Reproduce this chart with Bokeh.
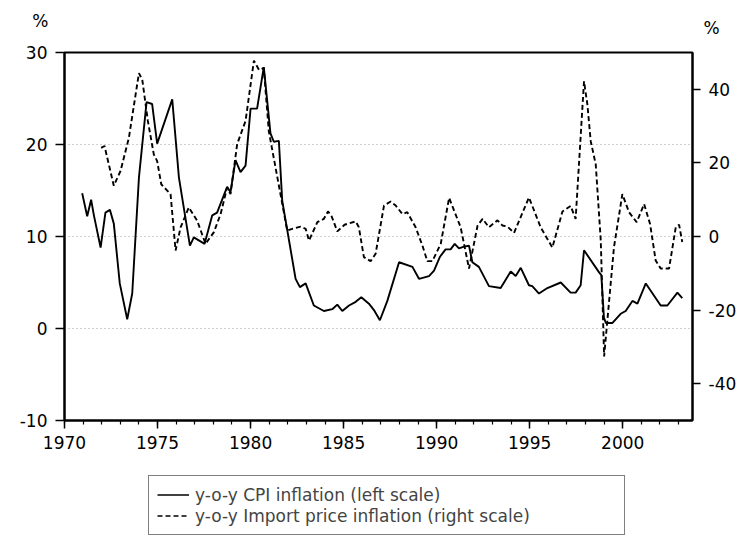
from bokeh.plotting import figure
from bokeh.layouts import column
from bokeh.models import Range1d, LinearAxis, FixedTicker, Legend, LegendItem
from bokeh.embed import file_html
from bokeh.resources import INLINE

# ---- data ----
cpi_year = [1970.95, 1971.22, 1971.43, 1971.58, 1971.94, 1972.20, 1972.44, 1972.65, 1972.97, 1973.37,
            1973.64, 1974.00, 1974.41, 1974.71, 1974.98, 1975.79, 1976.15, 1976.74, 1976.95, 1977.53,
            1977.94, 1978.20, 1978.74, 1978.92, 1979.19, 1979.46, 1979.73, 1980.00, 1980.35, 1980.71,
            1981.07, 1981.25, 1981.52, 1981.70, 1982.42, 1982.65, 1982.96, 1983.40, 1983.94, 1984.39,
            1984.66, 1984.93, 1985.29, 1985.65, 1985.95, 1986.36, 1986.63, 1986.95, 1987.35, 1987.98,
            1988.70, 1989.05, 1989.59, 1989.86, 1990.18, 1990.48, 1990.75, 1990.97, 1991.20, 1991.47,
            1991.74, 1991.92, 1992.27, 1992.81, 1993.44, 1993.98, 1994.25, 1994.52, 1994.96, 1995.14,
            1995.50, 1995.95, 1996.67, 1997.20, 1997.47, 1997.74, 1997.92, 1998.73, 1998.85, 1998.99,
            1999.09, 1999.45, 1999.89, 2000.16, 2000.52, 2000.79, 2001.24, 2002.04, 2002.40, 2002.94,
            2003.20]
cpi_val = [14.7, 12.2, 14.0, 12.3, 8.8, 12.6, 12.9, 11.4, 4.9, 1.0,
           3.8, 16.4, 24.6, 24.4, 20.1, 24.9, 16.4, 9.0, 9.9, 9.2,
           12.3, 12.6, 15.4, 14.8, 18.3, 17.0, 17.7, 23.9, 23.9, 28.4,
           21.2, 20.3, 20.4, 13.9, 5.4, 4.5, 4.9, 2.5, 1.9, 2.1,
           2.6, 1.9, 2.5, 2.9, 3.4, 2.7, 2.0, 0.9, 3.0, 7.2,
           6.7, 5.4, 5.7, 6.3, 7.8, 8.6, 8.6, 9.2, 8.7, 8.9,
           9.0, 7.2, 6.7, 4.6, 4.4, 6.2, 5.7, 6.6, 4.7, 4.6,
           3.8, 4.4, 5.0, 3.9, 3.9, 4.7, 8.5, 6.1, 5.8, 1.2,
           0.6, 0.6, 1.6, 1.9, 3.0, 2.7, 4.9, 2.5, 2.5, 3.9,
           3.3]

imp_year = [1971.97, 1972.15, 1972.65, 1973.01, 1973.46, 1974.00, 1974.18, 1974.48, 1974.80, 1974.98,
            1975.20, 1975.70, 1975.97, 1976.24, 1976.68, 1977.13, 1977.58, 1978.03, 1978.39, 1978.74,
            1978.92, 1979.28, 1979.73, 1980.18, 1980.45, 1980.71, 1980.98, 1981.97, 1982.24, 1982.69,
            1982.96, 1983.14, 1983.59, 1983.94, 1984.16, 1984.34, 1984.66, 1985.05, 1985.65, 1985.82,
            1986.09, 1986.45, 1986.72, 1987.17, 1987.53, 1987.80, 1988.16, 1988.42, 1988.87, 1989.23,
            1989.50, 1989.77, 1990.22, 1990.67, 1991.29, 1991.74, 1992.20, 1992.47, 1992.81, 1993.27,
            1993.53, 1993.80, 1994.16, 1994.96, 1995.59, 1996.22, 1996.76, 1997.20, 1997.47, 1997.92,
            1998.10, 1998.28, 1998.55, 1998.82, 1999.00, 1999.53, 1999.98, 2000.34, 2000.75, 2001.15,
            2001.47, 2001.77, 2002.04, 2002.49, 2002.85, 2003.03, 2003.20]
imp_val = [24.1, 24.6, 13.8, 17.8, 26.8, 44.4, 42.6, 31.4, 22.3, 20.5,
           14.2, 11.5, -3.8, 2.5, 7.9, 4.3, -2.0, 1.2, 6.1, 13.3,
           11.5, 25.1, 31.4, 47.8, 45.3, 45.8, 28.6, 1.6, 2.1, 2.7,
           2.1, -1.1, 3.9, 4.8, 6.8, 5.7, 1.4, 3.2, 4.1, 2.5,
           -5.6, -6.7, -4.7, 8.4, 9.5, 8.4, 6.1, 6.6, 2.5, -2.4,
           -6.7, -6.7, -2.0, 10.5, 2.5, -8.7, 3.0, 4.8, 2.5, 4.4,
           3.0, 2.7, 1.0, 10.6, 2.5, -3.0, 6.8, 8.3, 4.8, 42.2,
           35.9, 25.9, 19.6, -1.1, -32.6, -2.9, 11.5, 6.6, 3.9, 8.8,
           3.4, -6.5, -8.7, -8.7, 2.5, 3.2, -1.5]

x_major = [1970, 1975, 1980, 1985, 1990, 1995, 2000]
x_minor = list(range(1970, 2004))
left_ticks = [-10, 0, 10, 20, 30]
right_ticks = [-40, -20, 0, 20, 40]
labels = ["y-o-y CPI inflation (left scale)", "y-o-y Import price inflation (right scale)"]
unit_label = "%"

FONT = "DejaVu Sans"
FS = "17px"
W = 745


def bare(h, yr=(0, 1)):
    f = figure(width=W, height=h, output_backend="svg", toolbar_location=None,
               x_range=Range1d(0, 1), y_range=Range1d(*yr),
               x_axis_location=None, y_axis_location=None,
               min_border=0, min_border_left=0, min_border_right=0,
               min_border_top=0, min_border_bottom=0)
    f.outline_line_color = None
    f.grid.visible = False
    f.background_fill_color = "white"
    f.border_fill_color = "white"
    return f


def unit_axis(tick, standoff):
    a = LinearAxis(ticker=FixedTicker(ticks=[tick], minor_ticks=[]),
                   major_label_overrides={tick: unit_label})
    a.axis_line_color = None
    a.major_tick_line_color = None
    a.minor_tick_line_color = None
    a.major_tick_out = 0
    a.major_tick_in = 0
    a.minor_tick_out = 0
    a.minor_tick_in = 0
    a.major_label_standoff = standoff
    a.major_label_text_font = FONT
    a.major_label_text_font_size = FS
    a.major_label_text_color = "black"
    return a


# ---- header strip with the two unit labels ----
p0 = bare(40, (0, 40))
p0.add_layout(unit_axis(20, 16), "left")
p0.add_layout(unit_axis(13, 11), "right")

# ---- main chart ----
p = figure(width=W, height=430, output_backend="svg", toolbar_location=None,
           x_range=Range1d(1970, 2003.75), y_range=Range1d(-10, 30),
           min_border_left=64, min_border_right=53, min_border_top=12, min_border_bottom=50)
p.extra_y_ranges = {"right": Range1d(-50, 50)}
p.outline_line_color = "black"
p.outline_line_width = 2
p.background_fill_color = "white"
p.border_fill_color = "white"

xa = p.xaxis[0]
xa.ticker = FixedTicker(ticks=x_major, minor_ticks=x_minor)
xa.major_tick_out = 8
xa.major_tick_in = 0
xa.minor_tick_out = 4
xa.minor_tick_in = 0
xa.major_label_standoff = 7

ya = p.yaxis[0]
ya.ticker = FixedTicker(ticks=left_ticks, minor_ticks=[])
ya.major_tick_out = 9
ya.major_tick_in = 0
ya.minor_tick_out = 0
ya.minor_tick_in = 0
ya.major_label_standoff = 8
ya.major_label_overrides = {t: ("-%d" % -t if t < 0 else str(t)) for t in left_ticks}

ra = LinearAxis(y_range_name="right", ticker=FixedTicker(ticks=right_ticks, minor_ticks=[]))
ra.major_tick_out = 8
ra.major_tick_in = 0
ra.minor_tick_out = 0
ra.minor_tick_in = 0
ra.major_label_standoff = 8
ra.major_label_overrides = {t: ("-%d" % -t if t < 0 else str(t)) for t in right_ticks}
p.add_layout(ra, "right")

for ax in (xa, ya, ra):
    ax.axis_line_color = "black"
    ax.axis_line_width = 2
    ax.major_tick_line_color = "black"
    ax.major_tick_line_width = 1.5
    ax.minor_tick_line_color = "black"
    ax.minor_tick_line_width = 1.2
    ax.major_label_text_font = FONT
    ax.major_label_text_font_size = FS
    ax.major_label_text_color = "black"

p.xgrid.grid_line_color = None
p.ygrid.ticker = FixedTicker(ticks=left_ticks)
p.ygrid.grid_line_color = "#a0a0a0"
p.ygrid.grid_line_dash = "1 3"
p.ygrid.grid_line_width = 1

p.line(cpi_year, cpi_val, line_color="black", line_width=1.9)
p.line(imp_year, imp_val, y_range_name="right", line_color="black",
       line_width=1.9, line_dash="5 3")

# ---- legend strip (the series lie outside this strip's ranges, only the key is seen) ----
p2 = bare(68)
g1 = p2.line(cpi_year, cpi_val, line_color="black", line_width=1.6)
g2 = p2.line(imp_year, imp_val, line_color="black", line_width=1.6, line_dash="5 3")
legend = Legend(items=[LegendItem(label=labels[0], renderers=[g1]),
                       LegendItem(label=labels[1], renderers=[g2])],
                location=(84, 3), orientation="vertical",
                border_line_color="black", border_line_width=1.5,
                background_fill_color="white", background_fill_alpha=1,
                label_text_font=FONT, label_text_font_size="17px",
                glyph_width=32, glyph_height=21, label_height=21, label_width=421,
                spacing=0, padding=8, margin=0, label_standoff=6)
p2.add_layout(legend)

layout = column(p0, p, p2, spacing=0)
open("out.html", "w").write(file_html(layout, INLINE))
